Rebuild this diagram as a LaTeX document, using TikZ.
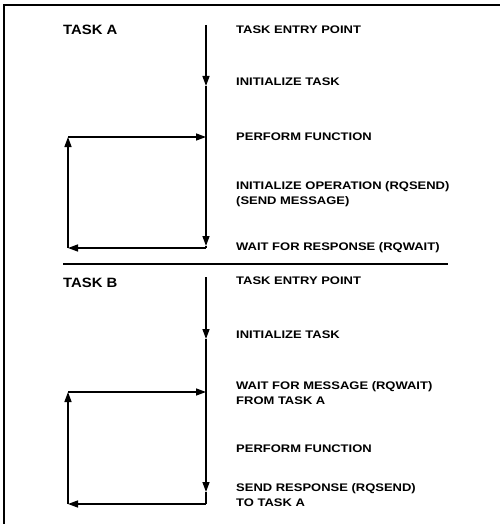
\documentclass[tikz,border=0pt]{standalone}
\usepackage{fontspec}
\setmainfont{Liberation Sans}
\newfontfamily\lblfont[FakeStretch=1.18]{Liberation Sans Bold}
\newfontfamily\ttlfont[FakeStretch=1.1]{Liberation Sans Bold}
\usetikzlibrary{arrows.meta}
\tikzset{
  flow/.style={line width=1.4pt, -{Triangle[length=10pt,width=7pt]}},
  plain/.style={line width=1.4pt},
  lbl/.style={anchor=base west, inner sep=0pt, align=left, font=\lblfont\fontsize{11}{15}\selectfont},
  title/.style={anchor=base west, inner sep=0pt, font=\ttlfont\fontsize{13.5}{16}\selectfont},
}
\begin{document}
\begin{tikzpicture}[x=1pt,y=-1pt]
\useasboundingbox (0,0) rectangle (500,524);
% frame
\draw[line width=1.6pt] (4,524) -- (4,5) -- (500,5);
% separator
\draw[line width=1.2pt] (63,264) -- (448,264);

% ---------- TASK A ----------
\node[title] (ta) at (63,35) {TASK A};
\node[lbl] (a1) at (236,33.5) {TASK ENTRY POINT};
\node[lbl] (a2) at (236,85.5) {INITIALIZE TASK};
\node[lbl] (a3) at (236,140.5) {PERFORM FUNCTION};
\node[lbl] (a4) at (236,204) {INITIALIZE OPERATION (RQSEND)\\(SEND MESSAGE)};
\node[lbl] (a5) at (236,250) {WAIT FOR RESPONSE (RQWAIT)};

\coordinate (A0) at (206,25);
\coordinate (A1) at (206,86);
\coordinate (A2) at (206,246);
\coordinate (A3) at (206,248);
\coordinate (AL) at (68,248);
\coordinate (AT) at (68,137);
\coordinate (AR) at (206,137);

\draw[flow] (A0) -- (A1);
\draw[flow] (A1) -- (A2);
\draw[plain] (A2) -- (A3);
\draw[flow] (A3) -- (AL);
\draw[flow] (AL) -- (AT);
\draw[flow] (AT) -- (AR);

% ---------- TASK B ----------
\node[title] (tb) at (63,287) {TASK B};
\node[lbl] (b1) at (236,284) {TASK ENTRY POINT};
\node[lbl] (b2) at (236,338) {INITIALIZE TASK};
\node[lbl] (b3) at (236,404) {WAIT FOR MESSAGE (RQWAIT)\\FROM TASK A};
\node[lbl] (b4) at (236,452) {PERFORM FUNCTION};
\node[lbl] (b5) at (236,506) {SEND RESPONSE (RQSEND)\\TO TASK A};

\coordinate (B0) at (206,277);
\coordinate (B1) at (206,339);
\coordinate (B2) at (206,492);
\coordinate (B3) at (206,504);
\coordinate (BL) at (68,504);
\coordinate (BT) at (68,392);
\coordinate (BR) at (206,392);

\draw[flow] (B0) -- (B1);
\draw[flow] (B1) -- (B2);
\draw[plain] (B2) -- (B3);
\draw[flow] (B3) -- (BL);
\draw[flow] (BL) -- (BT);
\draw[flow] (BT) -- (BR);
\end{tikzpicture}
\end{document}
